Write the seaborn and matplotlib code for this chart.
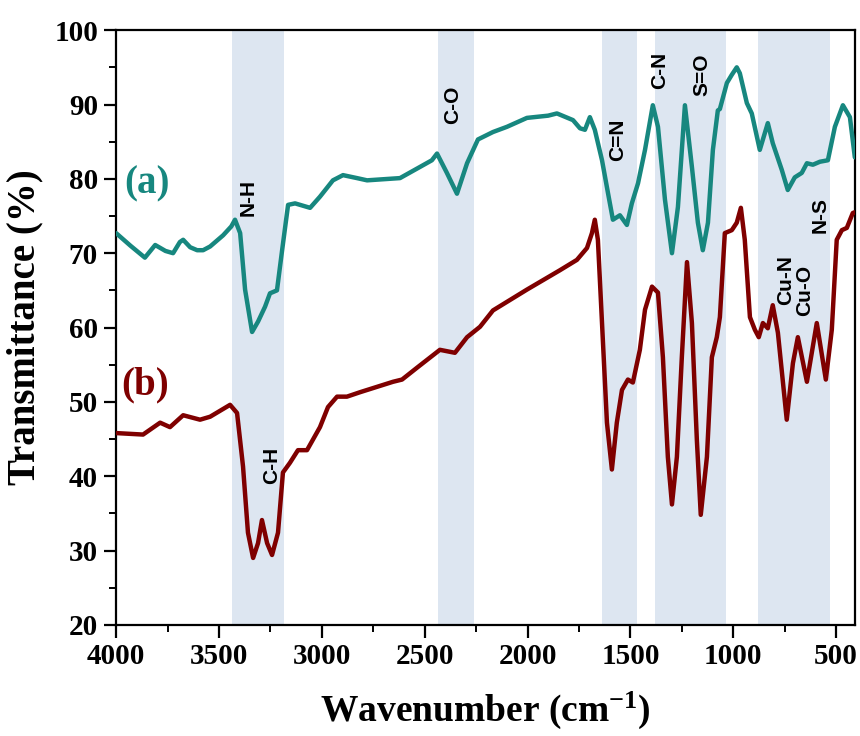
import matplotlib
matplotlib.use("Agg")
import matplotlib.pyplot as plt
from matplotlib.ticker import MultipleLocator
import seaborn as sns
import pandas as pd

# ---- data ----
wn_a = [4000, 3930, 3860, 3810, 3760, 3723, 3690, 3674, 3640, 3606, 3577, 3543, 3480, 3440, 3422,
        3397, 3373, 3339, 3310, 3276, 3252, 3218, 3193, 3164, 3130, 3057, 3009, 2946, 2897, 2829,
        2780, 2620, 2523, 2465, 2440, 2392, 2343, 2294, 2241, 2168, 2100, 2003, 1900, 1857, 1779,
        1745, 1721, 1697, 1673, 1638, 1609, 1585, 1551, 1517, 1493, 1463, 1429, 1391, 1366, 1332,
        1298, 1269, 1235, 1201, 1172, 1148, 1123, 1099, 1075, 1065, 1031, 1007, 983, 968, 934,
        910, 871, 832, 808, 764, 735, 701, 667, 642, 613, 579, 540, 506, 467, 433, 409]
T_a = [72.7, 71.0, 69.4, 71.1, 70.3, 70.0, 71.5, 71.8, 70.8, 70.4, 70.4, 70.9, 72.4, 73.6, 74.5,
       72.7, 65.1, 59.4, 60.8, 62.8, 64.6, 65.0, 70.4, 76.5, 76.7, 76.1, 77.6, 79.8, 80.5, 80.1,
       79.8, 80.1, 81.6, 82.5, 83.4, 80.8, 78.0, 82.1, 85.3, 86.3, 87.0, 88.2, 88.5, 88.8, 87.9,
       86.8, 86.6, 88.3, 86.6, 82.5, 78.1, 74.5, 75.1, 73.8, 76.7, 79.4, 83.9, 89.9, 87.0, 77.2,
       70.0, 76.2, 89.9, 81.6, 74.1, 70.4, 74.1, 83.9, 89.2, 89.4, 92.9, 94.0, 95.0, 94.2, 90.2,
       88.8, 83.9, 87.5, 84.8, 81.2, 78.5, 80.2, 80.8, 82.1, 81.9, 82.3, 82.5, 87.0, 89.9, 88.3, 82.9]

wn_b = [4000, 3869, 3786, 3738, 3674, 3592, 3543, 3446, 3412, 3383, 3359, 3334, 3310, 3291, 3266,
        3242, 3213, 3189, 3155, 3116, 3072, 3009, 2970, 2926, 2878, 2814, 2654, 2610, 2537, 2426,
        2353, 2294, 2231, 2168, 2003, 1843, 1760, 1711, 1687, 1673, 1658, 1638, 1614, 1590, 1566,
        1541, 1512, 1488, 1454, 1429, 1395, 1366, 1342, 1318, 1298, 1274, 1250, 1225, 1201, 1177,
        1158, 1128, 1104, 1080, 1065, 1041, 1007, 983, 963, 944, 919, 895, 876, 856, 832,
        808, 783, 740, 710, 686, 642, 594, 550, 521, 497, 472, 448, 419, 410]
T_b = [45.8, 45.6, 47.2, 46.6, 48.2, 47.6, 48.0, 49.6, 48.5, 41.3, 32.4, 29.0, 31.0, 34.1, 31.0,
       29.4, 32.4, 40.5, 41.8, 43.5, 43.5, 46.6, 49.3, 50.7, 50.7, 51.3, 52.7, 53.0, 54.6, 57.0,
       56.6, 58.7, 60.1, 62.3, 65.1, 67.7, 69.1, 70.7, 72.7, 74.5, 71.8, 60.6, 47.2, 40.9, 47.2,
       51.6, 53.0, 52.6, 57.0, 62.4, 65.5, 64.7, 56.0, 42.6, 36.2, 42.6, 56.0, 68.8, 60.6, 44.9,
       34.8, 42.6, 56.0, 58.7, 61.4, 72.7, 73.1, 74.1, 76.1, 71.8, 61.4, 59.7, 58.7, 60.6, 59.9,
       63.0, 59.3, 47.6, 55.2, 58.7, 52.7, 60.6, 53.0, 59.7, 71.8, 73.1, 73.4, 75.4, 75.5]

bands = [(3436, 3184), (2435, 2260), (1638, 1468), (1381, 1036), (880, 531)]

ann_text = ["N-H", "C-O", "C=N", "C-N", "S=O", "N-S", "Cu-N", "Cu-O", "C-H"]
ann_x = [3358, 2362, 1560, 1357, 1152, 579, 744, 652, 3242]
ann_y = [77.5, 90.0, 85.2, 94.6, 94.0, 75.1, 66.4, 65.0, 41.5]

series_labels = ["(a)", "(b)"]
label_x = [3960, 3975]
label_y = [79.3, 52.3]

teal = "#17877f"
maroon = "#7f0000"
band_color = "#dde6f1"

# ---- plot ----
sns.set_style("ticks")
plt.rcParams["font.family"] = ["Liberation Serif", "DejaVu Serif"]
plt.rcParams.update({
    "text.color": "black", "axes.labelcolor": "black",
    "xtick.color": "black", "ytick.color": "black",
    "mathtext.fontset": "custom",
    "mathtext.rm": "Liberation Serif:bold",
    "mathtext.bf": "Liberation Serif:bold",
    "mathtext.it": "Liberation Serif:bold",
})

fig = plt.figure(figsize=(8.6, 7.36), dpi=100)
ax = fig.add_axes([0.135, 0.151, 0.859, 0.808])

for lo, hi in bands:
    ax.axvspan(hi, lo, color=band_color, lw=0, zorder=0)

df_a = pd.DataFrame({"wn": wn_a, "T": T_a})
df_b = pd.DataFrame({"wn": wn_b, "T": T_b})
sns.lineplot(data=df_a, x="wn", y="T", ax=ax, color=teal, lw=3.2, estimator=None, sort=False,
             zorder=3, solid_joinstyle="round", solid_capstyle="round")
sns.lineplot(data=df_b, x="wn", y="T", ax=ax, color=maroon, lw=3.2, estimator=None, sort=False,
             zorder=3, solid_joinstyle="round", solid_capstyle="round")

for t, x, y in zip(ann_text, ann_x, ann_y):
    ax.text(x, y, t, rotation=90, ha="center", va="center", fontsize=15,
            fontweight="bold", family=["Liberation Sans", "DejaVu Sans"], color="black", zorder=4)

for t, x, y, c in zip(series_labels, label_x, label_y, [teal, maroon]):
    ax.text(x, y, t, ha="left", va="center", fontsize=28, fontweight="bold", color=c, zorder=4)

ax.set_xlim(4000, 409)
ax.set_ylim(20, 100)
ax.xaxis.set_major_locator(MultipleLocator(500))
ax.xaxis.set_minor_locator(MultipleLocator(250))
ax.yaxis.set_major_locator(MultipleLocator(10))
ax.yaxis.set_minor_locator(MultipleLocator(5))
ax.tick_params(which="major", direction="out", length=9, width=1.6, labelsize=21, pad=4)
ax.tick_params(which="minor", direction="out", length=5, width=1.4)
ax.tick_params(top=False, right=False, which="both")
for lab in ax.get_xticklabels() + ax.get_yticklabels():
    lab.set_fontweight("bold")
for s in ax.spines.values():
    s.set_visible(True)
    s.set_linewidth(1.6)
    s.set_color("black")

ax.set_xlabel("Wavenumber (cm$^{-1}$)", fontsize=27, fontweight="bold", labelpad=14)
ax.set_ylabel("Transmittance (%)", fontsize=28, fontweight="bold", labelpad=8)

fig.savefig("out.png", dpi=100)
